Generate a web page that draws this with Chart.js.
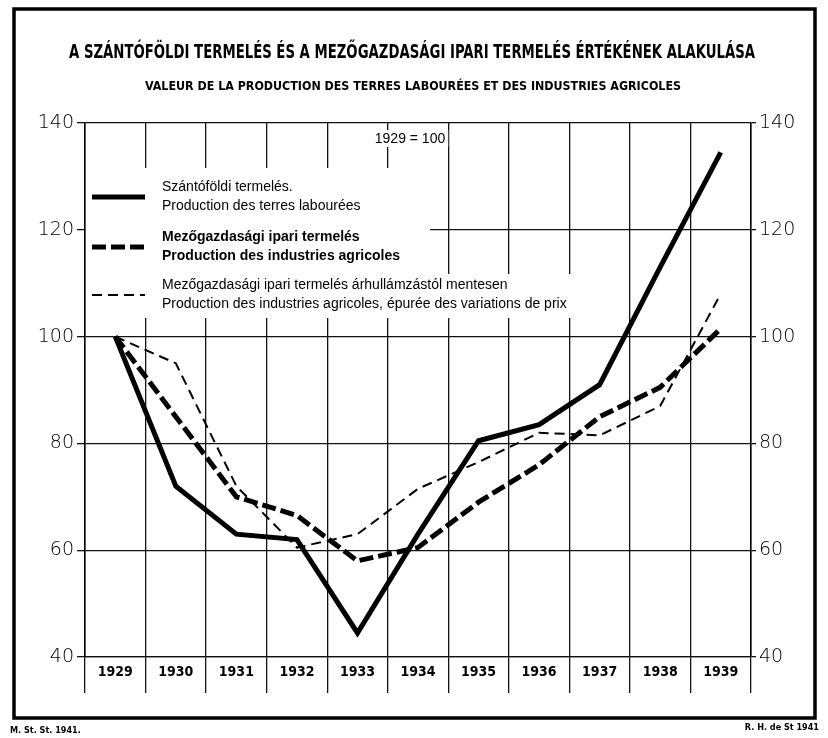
<!DOCTYPE html>
<html>
<head>
<meta charset="utf-8">
<script src="https://cdn.jsdelivr.net/npm/chart.js@4.4.1/dist/chart.umd.min.js"></script>
<style>
    html, body { margin: 0; padding: 0; background: #fff; }
    #wrap { width: 828px; height: 738px; }
</style>
</head>
<body>
<div id="wrap"><canvas id="chart" width="828" height="738"></canvas></div>
<script>
// data (1929 = 100)
var years = ['1929', '1930', '1931', '1932', '1933', '1934', '1935', '1936', '1937', '1938', '1939'];
var szantofoldi = [100, 72, 63, 62, 44.5, 63, 80.5, 83.5, 91, 113, 134.5];
var ipariTermeles = [100, 85, 70, 66.5, 58, 60.5, 69, 76, 85, 90.5, 101.5];
var ipariMentesen = [100, 95, 72, 60.5, 63, 71.5, 76.5, 82, 81.5, 87, 108];
var yTicks = [40, 60, 80, 100, 120, 140];

var titleHu = 'A SZÁNTÓFÖLDI TERMELÉS ÉS A MEZŐGAZDASÁGI IPARI TERMELÉS ÉRTÉKÉNEK ALAKULÁSA';
var titleFr = 'VALEUR DE LA PRODUCTION DES TERRES LABOURÉES ET DES INDUSTRIES AGRICOLES';
var baseNote = '1929 = 100';
var legendHu = ['Szántóföldi termelés.', 'Mezőgazdasági ipari termelés', 'Mezőgazdasági ipari termelés árhullámzástól mentesen'];
var legendFr = ['Production des terres labourées', 'Production des industries agricoles', 'Production des industries agricoles, épurée des variations de prix'];
var footLeft = 'M. St. St. 1941.';
var footRight = 'R. H. de St 1941';

var narrow = "'Liberation Sans Narrow', 'DejaVu Sans Condensed', 'Liberation Sans', sans-serif";
var plain = "'Liberation Sans', Arial, sans-serif";
var axisFont = { family: "'DejaVu Sans', sans-serif", size: 19, weight: '200' };

// frame, titles and footer
var framePlugin = {
    id: 'frame',
    beforeDraw: function (chart) {
        var ctx = chart.ctx;
        ctx.save();
        ctx.fillStyle = '#fff';
        ctx.fillRect(0, 0, chart.width, chart.height);
        ctx.strokeStyle = '#000';
        ctx.lineWidth = 3.5;
        ctx.strokeRect(14, 9, 801, 709);

        ctx.fillStyle = '#000';
        ctx.textAlign = 'center';
        ctx.textBaseline = 'middle';
        ctx.font = 'bold 20px ' + narrow;
        ctx.fillText(titleHu, 412, 53, 686);
        ctx.font = 'bold 13px ' + narrow;
        ctx.fillText(titleFr, 413, 87, 536);

        ctx.font = 'bold 9px ' + narrow;
        ctx.textAlign = 'left';
        ctx.fillText(footLeft, 10, 731);
        ctx.textAlign = 'right';
        ctx.fillText(footRight, 819, 728);
        ctx.restore();
    }
};

// white patch over the grid where the key sits, then the key itself
var keyPlugin = {
    id: 'key',
    beforeDatasetsDraw: function (chart) {
        var ctx = chart.ctx;
        var left = chart.chartArea.left + 1;
        ctx.save();
        ctx.fillStyle = '#fff';
        ctx.fillRect(left, 168, 430 - left, 150);
        ctx.fillRect(430, 274, 188, 44);

        ctx.font = '14px ' + plain;
        var w = ctx.measureText(baseNote).width;
        ctx.fillRect(410 - w / 2 - 3, 130, w + 6, 17);
        ctx.fillStyle = '#000';
        ctx.textAlign = 'center';
        ctx.textBaseline = 'middle';
        ctx.fillText(baseNote, 410, 139);

        var rows = [187, 237, 285];
        var styles = [
            { width: 5, dash: [] },
            { width: 5, dash: [14, 5] },
            { width: 2, dash: [10, 6] }
        ];
        ctx.textAlign = 'left';
        for (let i = 0; i < rows.length; i++) {
            ctx.strokeStyle = '#000';
            ctx.lineWidth = styles[i].width;
            ctx.setLineDash(styles[i].dash);
            ctx.beginPath();
            ctx.moveTo(92, rows[i] + 10);
            ctx.lineTo(145, rows[i] + 10);
            ctx.stroke();
            ctx.setLineDash([]);
            ctx.font = (i == 1 ? 'bold ' : '') + '14px ' + plain;
            ctx.fillText(legendHu[i], 162, rows[i]);
            ctx.fillText(legendFr[i], 162, rows[i] + 19);
        }
        ctx.restore();
    }
};

var ctx = document.getElementById('chart').getContext('2d');
var chart = new Chart(ctx, {
    type: 'line',
    data: {
        labels: years,
        datasets: [
            { label: legendHu[0], data: szantofoldi, borderColor: '#000', borderWidth: 5, borderDash: [], pointRadius: 0, tension: 0, yAxisID: 'y' },
            { label: legendHu[1], data: ipariTermeles, borderColor: '#000', borderWidth: 5, borderDash: [14, 5], pointRadius: 0, tension: 0, yAxisID: 'y' },
            { label: legendHu[2], data: ipariMentesen, borderColor: '#000', borderWidth: 2, borderDash: [10, 6], pointRadius: 0, tension: 0, yAxisID: 'y' }
        ]
    },
    options: {
        responsive: false,
        animation: false,
        devicePixelRatio: 1,
        layout: { padding: { top: 123, left: 0, right: 0, bottom: 0 } },
        plugins: {
            legend: { display: false },
            title: { display: false },
            tooltip: { enabled: false }
        },
        scales: {
            x: {
                type: 'category',
                offset: true,
                grid: { offset: true, color: '#111', lineWidth: 1.3, tickLength: 36, drawTicks: true },
                border: { display: true, color: '#111', width: 1.3 },
                ticks: { color: '#000', font: { family: narrow, size: 14, weight: 'bold' }, padding: -29, maxRotation: 0, autoSkip: false },
                afterFit: function (scale) { scale.height = 81; }
            },
            y: {
                position: 'left',
                min: 40,
                max: 140,
                afterBuildTicks: function (scale) { scale.ticks = yTicks.map(function (v) { return { value: v }; }); },
                grid: { color: '#111', lineWidth: 1.3, tickLength: 8 },
                border: { display: true, color: '#000', width: 1.5 },
                ticks: { color: '#000', font: axisFont, padding: 3 },
                afterFit: function (scale) { scale.width = 85; }
            },
            y2: {
                position: 'right',
                min: 40,
                max: 140,
                afterBuildTicks: function (scale) { scale.ticks = yTicks.map(function (v) { return { value: v }; }); },
                grid: { drawOnChartArea: false, color: '#111', lineWidth: 1.3, tickLength: 5 },
                border: { display: true, color: '#000', width: 1.5 },
                ticks: { color: '#000', font: axisFont, padding: 3 },
                afterFit: function (scale) { scale.width = 77; }
            }
        }
    },
    plugins: [framePlugin, keyPlugin]
});
</script>
</body>
</html>
